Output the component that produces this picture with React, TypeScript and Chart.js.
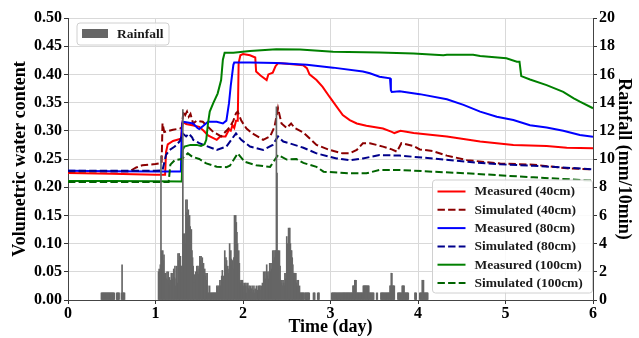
import { useEffect, useRef } from "react";
import { Chart, registerables } from "chart.js";

Chart.register(...registerables);

const FONT = "'Liberation Serif', 'Times New Roman', serif";

// Axis ranges and ticks
const timeRange: [number, number] = [0, 6];
const vwcRange: [number, number] = [0, 0.5];
const rainRange: [number, number] = [0, 20];

// Measured and simulated volumetric water content, [day, value]
const measured40: [number, number][] = [
  [0, 0.225], [0.5, 0.224], [1.0, 0.222], [1.11, 0.222], [1.12, 0.262], [1.14, 0.276],
  [1.2, 0.282], [1.29, 0.286], [1.31, 0.316], [1.35, 0.312], [1.42, 0.31], [1.5, 0.307],
  [1.55, 0.3], [1.6, 0.292], [1.65, 0.288], [1.7, 0.284], [1.74, 0.29], [1.8, 0.29],
  [1.84, 0.302], [1.86, 0.3], [1.88, 0.31], [1.9, 0.305], [1.92, 0.318], [1.94, 0.318],
  [1.95, 0.42], [1.97, 0.434], [2.0, 0.436], [2.08, 0.434], [2.14, 0.43], [2.15, 0.405],
  [2.2, 0.398], [2.27, 0.39], [2.29, 0.4], [2.34, 0.403], [2.37, 0.414], [2.4, 0.42],
  [2.5, 0.419], [2.69, 0.416], [2.73, 0.411], [2.76, 0.4], [2.84, 0.39], [2.91, 0.378],
  [2.99, 0.36], [3.07, 0.343], [3.14, 0.328], [3.22, 0.319], [3.3, 0.313], [3.41, 0.309],
  [3.6, 0.304], [3.7, 0.298], [3.73, 0.296], [3.8, 0.3], [3.95, 0.296], [4.33, 0.29],
  [4.71, 0.281], [5.09, 0.275], [5.47, 0.273], [5.7, 0.27], [6.0, 0.269],
];

const simulated40: [number, number][] = [
  [0, 0.228], [0.7, 0.228], [0.78, 0.235], [0.85, 0.239], [1.0, 0.241], [1.07, 0.243],
  [1.08, 0.313], [1.1, 0.298], [1.15, 0.3], [1.2, 0.302], [1.28, 0.304], [1.3, 0.306],
  [1.32, 0.335], [1.34, 0.328], [1.36, 0.334], [1.38, 0.325], [1.4, 0.33], [1.43, 0.313],
  [1.47, 0.318], [1.54, 0.316], [1.66, 0.298], [1.75, 0.29], [1.81, 0.3], [1.85, 0.307],
  [1.89, 0.318], [1.92, 0.331], [1.94, 0.334], [1.98, 0.318], [2.04, 0.304], [2.11, 0.295],
  [2.23, 0.284], [2.31, 0.29], [2.36, 0.307], [2.4, 0.34], [2.44, 0.313], [2.5, 0.305],
  [2.55, 0.313], [2.59, 0.305], [2.69, 0.297], [2.84, 0.275], [2.99, 0.266], [3.14, 0.26],
  [3.22, 0.26], [3.3, 0.266], [3.37, 0.278], [3.45, 0.278], [3.6, 0.272], [3.7, 0.267],
  [3.76, 0.263], [3.81, 0.278], [3.95, 0.273], [4.02, 0.267], [4.17, 0.264], [4.33, 0.256],
  [4.56, 0.248], [4.94, 0.242], [5.32, 0.24], [5.7, 0.2335], [6.0, 0.2315],
];

const measured80: [number, number][] = [
  [0, 0.229], [0.5, 0.2285], [1.0, 0.228], [1.29, 0.228], [1.3, 0.3], [1.31, 0.316],
  [1.35, 0.315], [1.43, 0.313], [1.48, 0.305], [1.5, 0.303], [1.54, 0.308], [1.6, 0.316],
  [1.7, 0.316], [1.77, 0.313], [1.81, 0.318], [1.84, 0.349], [1.86, 0.38], [1.89, 0.417],
  [1.9, 0.421], [2.08, 0.421], [2.38, 0.42], [2.73, 0.417], [3.03, 0.412], [3.37, 0.405],
  [3.45, 0.402], [3.56, 0.396], [3.68, 0.393], [3.69, 0.372], [3.7, 0.369], [3.79, 0.37],
  [4.02, 0.365], [4.33, 0.356], [4.52, 0.346], [4.71, 0.334], [4.9, 0.325], [5.09, 0.319],
  [5.28, 0.31], [5.47, 0.306], [5.66, 0.3], [5.85, 0.2926], [6.0, 0.2896],
];

const simulated80: [number, number][] = [
  [0, 0.229], [1.0, 0.229], [1.08, 0.23], [1.12, 0.257], [1.16, 0.266], [1.22, 0.272],
  [1.28, 0.282], [1.3, 0.292], [1.31, 0.2955], [1.35, 0.29], [1.38, 0.295], [1.42, 0.288],
  [1.43, 0.284], [1.5, 0.278], [1.7, 0.266], [1.81, 0.272], [1.92, 0.2955], [1.98, 0.284],
  [2.08, 0.272], [2.23, 0.266], [2.34, 0.275], [2.4, 0.29], [2.46, 0.281], [2.53, 0.278],
  [2.69, 0.27], [2.84, 0.26], [3.07, 0.251], [3.22, 0.248], [3.37, 0.251], [3.56, 0.257],
  [3.79, 0.256], [4.17, 0.251], [4.56, 0.245], [4.94, 0.2405], [5.32, 0.238], [5.7, 0.2346],
  [6.0, 0.2317],
];

const measured100: [number, number][] = [
  [0, 0.211], [0.5, 0.211], [1.0, 0.2105], [1.3, 0.21], [1.31, 0.266], [1.33, 0.272],
  [1.4, 0.275], [1.47, 0.275], [1.52, 0.273], [1.56, 0.276], [1.58, 0.284], [1.6, 0.313],
  [1.62, 0.334], [1.66, 0.349], [1.71, 0.366], [1.75, 0.39], [1.77, 0.426], [1.79, 0.4385],
  [1.89, 0.4385], [2.08, 0.4415], [2.38, 0.4444], [2.65, 0.444], [3.03, 0.44], [3.56, 0.439],
  [3.95, 0.437], [4.29, 0.434], [4.33, 0.435], [4.63, 0.435], [4.71, 0.4326], [5.01, 0.4285],
  [5.13, 0.4226], [5.16, 0.4226], [5.18, 0.397], [5.28, 0.391], [5.47, 0.381], [5.66, 0.369],
  [5.78, 0.3576], [5.85, 0.3516], [6.0, 0.34],
];

const simulated100: [number, number][] = [
  [0, 0.209], [1.0, 0.209], [1.15, 0.209], [1.17, 0.24], [1.22, 0.248], [1.3, 0.25],
  [1.33, 0.254], [1.37, 0.26], [1.42, 0.254], [1.5, 0.25], [1.58, 0.2423], [1.7, 0.2364],
  [1.81, 0.2355], [1.85, 0.238], [1.94, 0.26], [2.02, 0.245], [2.15, 0.239], [2.31, 0.236],
  [2.4, 0.257], [2.5, 0.249], [2.61, 0.25], [2.69, 0.243], [2.84, 0.236], [2.92, 0.2275],
  [3.22, 0.2246], [3.41, 0.2246], [3.56, 0.2305], [3.79, 0.2305], [4.17, 0.2275], [4.56, 0.2246],
  [5.32, 0.2175], [6.0, 0.2116],
];

// Rainfall in mm per 10 min: [first 10-min step, consecutive values]
const STEPS_PER_DAY = 144;
const rainfallRuns: [number, number[]][] = [
  [55, [0.5, 0.5, 0.5, 0.5, 0.5, 0.5, 0.5, 0.5, 0.5, 0.5, 0.5, 0.5, 0.5, 0.5, 0.5, 0.5, 0.5, 0.5, 0.5, 0.5, 0.5, 0.5]],
  [80, [0.5, 0.5, 0.5, 0.5, 0.5]],
  [88, [0.5, 2.5, 0.5, 0.5, 0.5, 0.5]],
  [149, [
    2.0, 2.2, 2.0, 2.5, 10.2, 3.5, 3.0, 3.5, 2.8, 3.2,
    1.9, 1.6, 1.9, 1.5, 2.0, 1.4, 2.0, 1.2, 1.6, 1.0, 1.4, 1.9,
    1.9, 1.5, 1.9, 2.2, 1.6, 2.4, 1.0, 1.5, 2.4, 1.2,
    3.3, 2.8, 3.3, 2.0, 3.1, 2.4, 2.4, 2.0, 13.5,
    4.7, 3.5, 4.7, 4.0, 7.1, 6.2, 7.1, 5.8, 6.4, 5.5, 6.0, 5.2, 4.5, 5.0, 3.5, 3.0,
    2.4, 1.2, 1.8, 1.2, 2.0, 1.5, 2.4, 2.0, 2.4, 1.8, 2.2,
    3.1, 2.8, 3.1, 2.5, 3.0, 2.4, 2.6, 1.7, 2.2, 1.7, 1.9, 1.4,
    1.9, 1.0, 0.5, 0.5, 1.0, 0.5, 0.5,
    0.5, 0.5, 0.5, 0.5, 0.5, 0.5, 0.5, 0.5, 0.5,
    1.0, 0.9, 1.0, 0.5, 1.0, 1.4, 1.0, 1.4, 1.7, 2.1, 1.4, 1.7, 1.2,
    3.5, 2.5, 3.0, 2.8, 1.7, 2.4, 1.9, 2.2, 4.0, 3.0, 3.5,
    2.9, 2.4, 2.8, 2.2, 3.0, 6.0, 5.0, 6.0, 5.5, 4.8, 4.0, 3.0, 3.5, 2.6,
    1.4, 1.2, 1.4, 1.0, 1.4,
    1.2, 1.0, 0.5, 1.2, 1.0, 1.2, 0.5, 1.0, 1.2, 0.8, 1.0,
    0.7, 1.0, 0.5, 0.8, 1.0, 0.5, 0.7, 1.0, 0.5, 0.8, 0.7, 1.0, 0.5, 0.7, 1.0, 0.5, 1.0,
    1.0, 0.7, 1.0, 0.5, 1.2, 1.0, 2.0, 1.4,
    2.0, 1.5, 2.0, 2.5, 1.7, 2.0, 1.5, 2.0,
    2.6, 2.0, 2.6, 2.2, 2.6, 3.5, 2.8, 3.5, 3.0, 3.5,
    3.5, 13.7, 9.0, 3.5,
    3.5, 3.0, 3.5, 2.4, 1.4, 1.2,
    1.4, 1.0, 1.4, 1.2, 1.0, 1.9, 1.5, 1.9, 4.5, 4.0, 1.9,
    5.1, 4.5, 5.1, 4.0, 3.5, 3.5, 3.0, 2.5,
    1.9, 1.5, 1.9, 1.4, 1.9, 1.2, 1.4, 1.0, 1.4, 0.8, 1.0,
    0.5, 0.5, 0.5, 0.5, 0.5, 0.5, 0.5,
  ]],
  [390, [0.5, 0.5, 0.5, 0.5, 0.5, 0.5, 0.5, 0.5]],
  [404, [0.5, 0.5, 0.5]],
  [411, [0.5, 0.5, 0.5]],
  [434, [
    0.5, 0.5, 0.5, 0.5, 0.5, 0.5, 0.5, 0.5, 0.5, 0.5, 0.5, 0.5, 0.5, 0.5, 0.5, 0.5, 0.5, 0.5,
    0.5, 0.5, 0.5, 0.5, 0.5, 0.5, 0.5, 0.5, 0.5, 0.5, 0.5, 0.5, 0.5, 0.5, 0.5, 0.5, 0.5,
    1.0, 1.0, 1.0, 1.4, 1.4, 1.4,
    0.5, 0.5, 0.5, 0.5, 0.5, 0.5, 0.5, 0.5, 0.5, 0.5, 0.5,
    1.0, 1.0, 1.0, 1.0, 1.0, 1.0, 1.0, 1.0, 1.0, 1.0,
    0.5, 0.5, 0.5, 0.5, 0.5, 0.5, 0.5, 0.5,
  ]],
  [508, [0.5, 0.5]],
  [515, [0.5, 0.5, 0.5, 0.5, 0.5, 0.5, 0.5, 0.5, 0.5, 0.5, 0.5, 0.5, 0.5, 0.5, 0.5, 1.0, 1.0, 1.9, 1.9, 1.0, 1.0, 1.0, 1.0]],
  [543, [0.5, 0.5, 0.5, 0.5, 0.5, 0.5, 0.5, 1.0, 1.0, 1.0, 1.0, 0.5, 0.5, 0.5, 0.5, 0.5, 0.5, 0.5]],
  [571, [0.5, 0.5, 0.5]],
  [579, [0.5, 0.5, 0.5, 0.5, 1.4, 1.4, 1.4, 0.5, 0.5, 0.5, 0.5, 0.5, 0.5, 0.5]],
];

const RED = "#ff0000";
const DARK_RED = "#8b0000";
const BLUE = "#0000ff";
const NAVY = "#00008b";
const GREEN = "#008000";
const DARK_GREEN = "#006400";
const RAIN_GREY = "#666666";
const DASH = [7.4, 3.2];

const seriesDefs = [
  { label: "Measured (40cm)", data: measured40, color: RED, dashed: false },
  { label: "Simulated (40cm)", data: simulated40, color: DARK_RED, dashed: true },
  { label: "Measured (80cm)", data: measured80, color: BLUE, dashed: false },
  { label: "Simulated (80cm)", data: simulated80, color: NAVY, dashed: true },
  { label: "Measured (100cm)", data: measured100, color: GREEN, dashed: false },
  { label: "Simulated (100cm)", data: simulated100, color: DARK_GREEN, dashed: true },
];

const rainPoints = rainfallRuns.flatMap(([start, values]) =>
  values.map((v, i) => ({ x: (start + i) / STEPS_PER_DAY, y: v }))
);

// Two framed legends: rainfall at top left, water content at bottom right
const legendsPlugin = {
  id: "twoLegends",
  afterDraw(chart: any) {
    const ctx: CanvasRenderingContext2D = chart.ctx;
    const area = chart.chartArea;
    ctx.save();
    ctx.font = `bold 13.5px ${FONT}`;
    ctx.textBaseline = "middle";
    ctx.textAlign = "left";

    const frame = (x: number, y: number, w: number, h: number) => {
      ctx.beginPath();
      ctx.roundRect(x, y, w, h, 3);
      ctx.fillStyle = "rgba(255,255,255,0.85)";
      ctx.fill();
      ctx.strokeStyle = "#d0d0d0";
      ctx.lineWidth = 1;
      ctx.stroke();
    };

    // rainfall legend
    const rx = area.left + 9;
    const ry = area.top + 5;
    frame(rx, ry, 92, 22);
    ctx.fillStyle = RAIN_GREY;
    ctx.fillRect(rx + 5, ry + 6, 26, 9);
    ctx.fillStyle = "#1a1a1a";
    ctx.fillText("Rainfall", rx + 40, ry + 11.5);

    // water content legend
    const lw = 160;
    const lh = 113;
    const lx = area.right - lw - 0.5;
    const ly = area.bottom - lh - 7;
    frame(lx, ly, lw, lh);
    seriesDefs.forEach((s, i) => {
      const cy = ly + 11.5 + i * 18.3;
      ctx.beginPath();
      ctx.setLineDash(s.dashed ? DASH : []);
      ctx.strokeStyle = s.color;
      ctx.lineWidth = 2;
      ctx.moveTo(lx + 5, cy);
      ctx.lineTo(lx + 33, cy);
      ctx.stroke();
      ctx.setLineDash([]);
      ctx.fillStyle = "#1a1a1a";
      ctx.fillText(s.label, lx + 42, cy + 0.5);
    });
    ctx.restore();
  },
};

export default function App() {
  const canvasRef = useRef<HTMLCanvasElement | null>(null);

  useEffect(() => {
    const canvas = canvasRef.current;
    if (!canvas) return;

    const tickFont = { family: FONT, size: 16, weight: "bold" as const };
    const titleFont = { family: FONT, size: 18, weight: "bold" as const };
    const gridColor = "#d9d9d9";

    const lineSets = seriesDefs.map((s, i) => ({
      type: "line" as const,
      label: s.label,
      data: s.data.map(([x, y]) => ({ x, y })),
      borderColor: s.color,
      backgroundColor: s.color,
      borderWidth: 2,
      borderDash: s.dashed ? DASH : [],
      pointRadius: 0,
      tension: 0,
      fill: false,
      yAxisID: "y",
      order: seriesDefs.length - i,
    }));

    const chart = new Chart(canvas, {
      type: "bar",
      data: {
        datasets: [
          ...lineSets,
          {
            type: "bar" as const,
            label: "Rainfall",
            data: rainPoints,
            backgroundColor: RAIN_GREY,
            borderWidth: 0,
            barThickness: 1,
            grouped: false,
            yAxisID: "y1",
            order: 0,
          },
        ] as any,
      },
      options: {
        animation: false,
        responsive: false,
        parsing: true,
        layout: { padding: { top: 18, left: 0, right: 0, bottom: 0 } },
        plugins: {
          legend: { display: false },
          tooltip: { enabled: false },
        },
        scales: {
          x: {
            type: "linear",
            min: timeRange[0],
            max: timeRange[1],
            offset: false,
            ticks: { stepSize: 1, font: tickFont, color: "#000", padding: 0, maxRotation: 0, autoSkip: false },
            grid: { color: gridColor, tickColor: "#333", tickLength: 4, offset: false },
            border: { color: "#444" },
            title: { display: true, text: "Time (day)", font: titleFont, color: "#000", padding: { top: 0, bottom: 0 } },
            afterFit(scale: any) { scale.height = 38; },
          },
          y: {
            type: "linear",
            position: "left",
            min: vwcRange[0],
            max: vwcRange[1],
            ticks: {
              stepSize: 0.05,
              font: tickFont,
              color: "#000",
              padding: 2,
              callback: (v: any) => Number(v).toFixed(2),
            },
            grid: { color: gridColor, tickColor: "#333", tickLength: 4 },
            border: { color: "#444" },
            title: { display: true, text: "Volumetric water content", font: titleFont, color: "#000", padding: { top: 10, bottom: 0 } },
            afterFit(scale: any) { scale.width = 68; },
          },
          y1: {
            type: "linear",
            position: "right",
            min: rainRange[0],
            max: rainRange[1],
            ticks: { stepSize: 2, font: tickFont, color: "#000", padding: 2 },
            grid: { drawOnChartArea: false, tickColor: "#333", tickLength: 4 },
            border: { color: "#444" },
            title: { display: true, text: "Rainfall (mm/10min)", font: titleFont, color: "#000", padding: { top: 5, bottom: 0 } },
            afterFit(scale: any) { scale.width = 46; },
          },
        },
      },
      plugins: [legendsPlugin],
    });

    return () => chart.destroy();
  }, []);

  return (
    <div style={{ position: "fixed", left: 0, top: 0, width: 639, height: 338, background: "#fff" }}>
      <canvas ref={canvasRef} width={639} height={338} style={{ display: "block" }} />
    </div>
  );
}
